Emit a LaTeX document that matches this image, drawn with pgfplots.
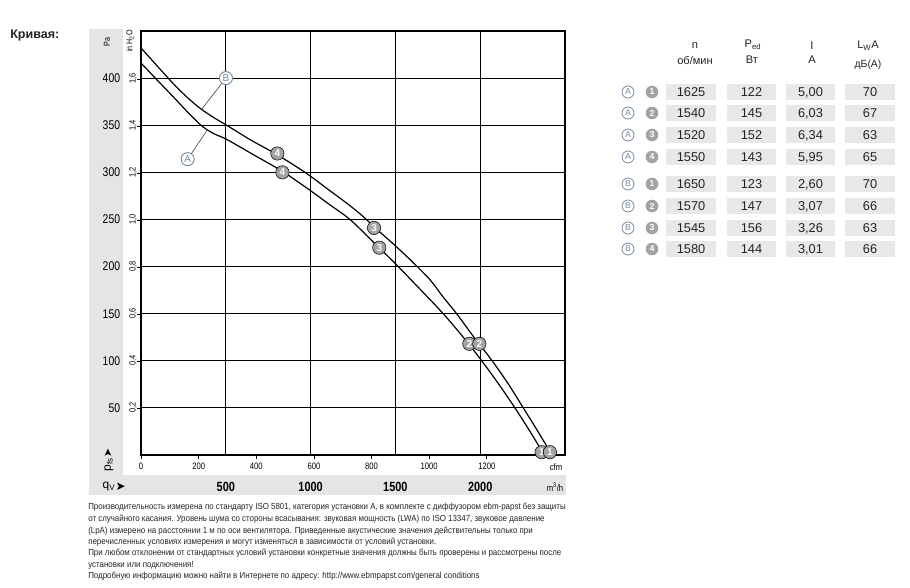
\documentclass[border=0pt]{standalone}
\usepackage{fontspec}
\setmainfont{Liberation Sans}
\newfontfamily\narrow{Liberation Sans}[FakeStretch=0.82]
\newfontfamily\foot{Liberation Sans}[FakeStretch=0.9]
\newfontfamily\dejavu{DejaVu Sans}
\usepackage{pgfplots}
\usepackage{pgfplotstable}
\pgfplotsset{compat=1.18}

\definecolor{band}{RGB}{227,229,230}
\definecolor{cell}{RGB}{232,232,232}
\definecolor{mk}{RGB}{163,163,163}
\definecolor{abc}{RGB}{118,138,160}
\definecolor{txt}{RGB}{35,35,35}
\def\cm{,}

\pgfplotstableread{
q p
0 432
100 412
191 394
270 380
348 368
430 358
505 350
650 334
800 319
967 300
1095 283
1200 269
1291 256
1400 238
1500 222
1600 205
1704 186
1780 168
1861 150
1959 126
2058 103
2160 77
2254 50
2330 28
2410 4
}\curveB

\pgfplotstableread{
q p
0 416
100 397
191 380
280 363
360 349
430 341
505 335
660 319
834 301
996 281
1110 266
1232 250
1370 226
1500 203
1640 177
1782 150
1900 125
2009 100
2110 75
2205 50
2290 26
2365 4
}\curveA

\pgfplotstableread{
x y l
834 300 4
804 320 4
1405 220 3
1374 241 3
1936 118 2
1995 118 2
2362 3 1
2411 3 1
}\points

\pgfplotstableread{
x y l
501 400 B
275 314 A
}\circles

\begin{document}
\begin{tikzpicture}
\path[use as bounding box] (0pt,0pt) rectangle (682.5pt,-441pt);
% gray bands
\fill[band] (66.75pt,-21.75pt) rectangle (92.25pt,-371.25pt);
\fill[band] (66.75pt,-356.25pt) rectangle (424.5pt,-371.25pt);

% secondary axis: cfm and in H2O
\begin{axis}[
  at={(105.75pt,-341.25pt)}, anchor=south west,
  width=318pt, height=318pt, scale only axis,
  xmin=0, xmax=1471.4, ymin=0, ymax=1.80658,
  axis line style={draw=none},
  tick pos=left, tick align=outside,
  major tick length=3pt,
  tick style={black, line width=0.6pt},
  xtick={0,200,400,600,800,1000,1200},
  xticklabels={0,200,400,600,800,1000,1200},
  ytick={0.2,0.4,0.6,0.8,1.0,1.2,1.4,1.6},
  yticklabels={{0,2},{0,4},{0,6},{0,8},{1,0},{1,2},{1,4},{1,6}},
  xticklabel style={font=\narrow\fontsize{7}{8}\selectfont, inner sep=0pt, anchor=north, yshift=-2.5pt},
  yticklabel style={font=\narrow\fontsize{6.8}{8}\selectfont, inner sep=0pt, anchor=south, rotate=90, xshift=0.5pt},
]
\end{axis}

% main axis: m3/h and Pa
\begin{axis}[
  at={(105.75pt,-341.25pt)}, anchor=south west,
  width=318pt, height=318pt, scale only axis,
  xmin=0, xmax=2500, ymin=0, ymax=450,
  clip=false,
  axis line style={black, line width=0.9pt},
  grid=major, grid style={black, line width=0.9pt},
  major tick length=0pt,
  xtick={500,1000,1500,2000},
  xticklabels={500,1000,1500,2000},
  ytick={50,100,150,200,250,300,350,400},
  yticklabels={50,100,150,200,250,300,350,400},
  xticklabel style={font=\narrow\bfseries\fontsize{10}{11}\selectfont, anchor=center, inner sep=0pt, yshift=-24pt},
  yticklabel style={font=\narrow\fontsize{9.5}{11}\selectfont, anchor=east, inner sep=0pt, xshift=-15.5pt},
]
\addplot[black, line width=0.9pt, smooth, tension=0.5] table[x=q,y=p] {\curveB};
\addplot[black, line width=0.9pt, smooth, tension=0.5] table[x=q,y=p] {\curveA};
% leader lines
\addplot[abc!60!black, line width=0.5pt] coordinates {(501,400) (358,367)};
\addplot[abc!60!black, line width=0.5pt] coordinates {(275,314) (391,345)};
% A / B circles
\addplot[only marks, mark=*, mark size=4.9pt, mark options={fill=white, draw=abc, line width=0.7pt},
  nodes near coords, point meta=explicit symbolic, nodes near coords align=center,
  every node near coord/.style={anchor=center, text=abc, font=\fontsize{7.5}{7.5}\selectfont, inner sep=0pt}]
  table[x=x, y=y, meta=l] {\circles};
% operating points
\addplot[only marks, mark=*, mark size=5pt, mark options={fill=mk, draw=none},
  nodes near coords, point meta=explicit symbolic, nodes near coords align=center,
  every node near coord/.style={anchor=center, text=white, font=\bfseries\fontsize{7.5}{7.5}\selectfont, inner sep=0pt}]
  table[x=x, y=y, meta=l] {\points};
\end{axis}

\begin{scope}[x=0.75pt, y=-0.75pt]
% title
\node[anchor=west, inner sep=0pt, font=\bfseries\fontsize{9.4}{11}\selectfont, text=txt] at (10,35) {Кривая:};
% axis captions
\node[rotate=90, font=\narrow\fontsize{6.5}{7}\selectfont] at (107,42) {Pa};
\node[rotate=90, font=\narrow\fontsize{6.5}{7}\selectfont] at (130,41) {in H\textsubscript{2}O};
\node[rotate=90, font=\fontsize{9}{10}\selectfont, anchor=west] at (109,476) {p\textsubscript{fs}};
\node[rotate=90, font=\dejavu\fontsize{8}{9}\selectfont] at (108,453) {➤};
\node[anchor=west, font=\fontsize{9}{10}\selectfont] at (98,487) {q\textsubscript{V}};
\node[anchor=west, font=\dejavu\fontsize{9}{10}\selectfont] at (111,487) {➤};
\node[font=\narrow\fontsize{7}{8}\selectfont] at (556,467) {cfm};
\node[font=\narrow\fontsize{7}{8}\selectfont] at (555,487) {m\textsuperscript{3}/h};

% table headers
\begin{scope}[every node/.style={font=\fontsize{8.3}{9}\selectfont, text=txt, inner sep=0pt}]
\node at (695,46) {n};
\node at (695,60) {об/мин};
\node at (753,45) {P\textsubscript{ed}};
\node at (752,60) {Вт};
\node at (812,46) {I};
\node at (812,60) {A};
\node at (868,46) {L\textsubscript{W}A};
\node[font=\fontsize{7.8}{9}\selectfont] at (868,65) {дБ(A)};
\end{scope}

% table rows
\foreach \yy/\lt/\num/\ca/\cb/\cc/\cd in {92/A/1/1625/122/5\cm00/70, 113/A/2/1540/145/6\cm03/67, 135/A/3/1520/152/6\cm34/63, 157/A/4/1550/143/5\cm95/65, 184/B/1/1650/123/2\cm60/70, 206/B/2/1570/147/3\cm07/66, 228/B/3/1545/156/3\cm26/63, 249/B/4/1580/144/3\cm01/66}{
  \fill[cell] (666,\yy-8) rectangle (716,\yy+8);
  \fill[cell] (727,\yy-8) rectangle (776,\yy+8);
  \fill[cell] (786,\yy-8) rectangle (835,\yy+8);
  \fill[cell] (845,\yy-8) rectangle (895,\yy+8);
  \begin{scope}[every node/.style={font=\fontsize{9.6}{11}\selectfont, text=txt, text height=7pt, text depth=0pt, inner sep=0pt}]
  \node at (691,\yy) {\ca};
  \node at (751.5,\yy) {\cb};
  \node at (810.5,\yy) {\cc};
  \node at (870,\yy) {\cd};
  \end{scope}
  \draw[abc, line width=0.6pt, fill=white] (628,\yy) circle[radius=6];
  \node[font=\fontsize{6.5}{7}\selectfont, text=abc] at (628,\yy) {\lt};
  \fill[mk] (652,\yy) circle[radius=6.3];
  \node[font=\bfseries\fontsize{6.5}{7}\selectfont, text=white] at (652,\yy) {\num};
}

% footnote
\begin{scope}[every node/.style={anchor=west, inner sep=0pt, font=\foot\fontsize{6.6}{7}\selectfont, text=txt}]
\node at (88,507) {Производительность измерена по стандарту ISO 5801, категория установки A, в комплекте с диффузором ebm-papst без защиты};
\node at (88,519) {от случайного касания. Уровень шума со стороны всасывания: звуковая мощность (LWA) по ISO 13347, звуковое давление};
\node at (88,531) {(LpA) измерено на расстоянии 1 м по оси вентилятора. Приведенные акустические значения действительны только при};
\node at (88,542.5) {перечисленных условиях измерения и могут изменяться в зависимости от условий установки.};
\node at (88,553.5) {При любом отклонении от стандартных условий установки конкретные значения должны быть проверены и рассмотрены после};
\node at (88,565) {установки или подключения!};
\node at (88,576) {Подробную информацию можно найти в Интернете по адресу: http://www.ebmpapst.com/general conditions};
\end{scope}
\end{scope}
\end{tikzpicture}
\end{document}
